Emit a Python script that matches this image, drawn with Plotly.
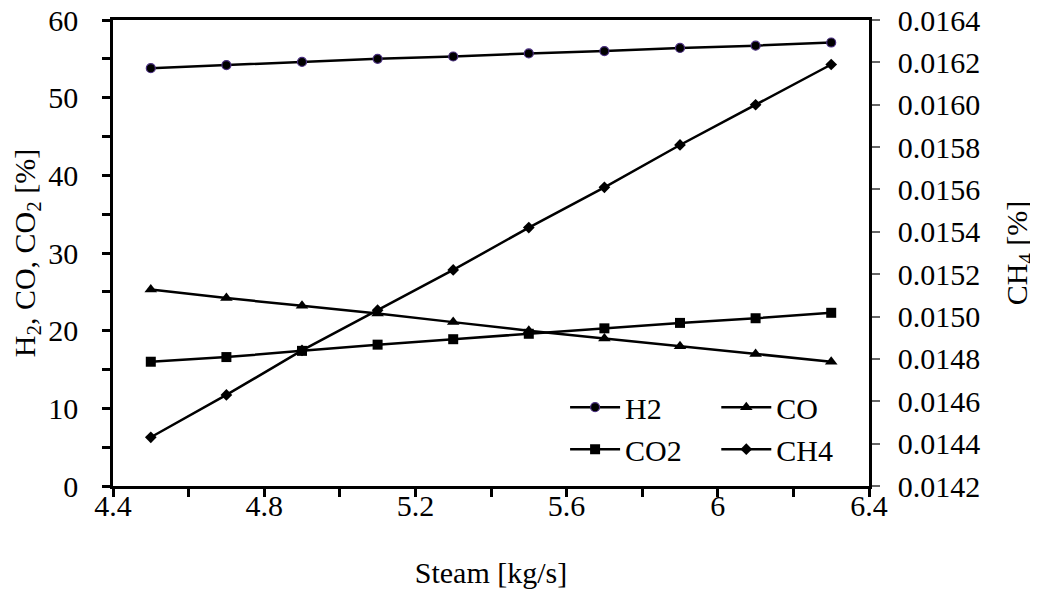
import plotly.graph_objects as go

steam = [4.5, 4.7, 4.9, 5.1, 5.3, 5.5, 5.7, 5.9, 6.1, 6.3]
h2 = [53.8, 54.2, 54.6, 55.0, 55.3, 55.7, 56.0, 56.4, 56.7, 57.1]
co = [25.3, 24.2, 23.2, 22.2, 21.1, 20.0, 19.0, 18.0, 17.0, 16.0]
co2 = [16.0, 16.6, 17.4, 18.2, 18.9, 19.6, 20.3, 21.0, 21.6, 22.3]
ch4 = [0.01443, 0.01463, 0.01484, 0.01503, 0.01522, 0.01542, 0.01561, 0.01581, 0.01600, 0.01619]

FONT = "Liberation Serif, Times New Roman, serif"
FS = 30

fig = go.Figure()
line = dict(color="black", width=2.5)
fig.add_trace(go.Scatter(x=steam, y=h2, name="H2", mode="lines+markers", line=line,
                         marker=dict(symbol="circle", size=9, color="black",
                                     line=dict(color="#4a2f80", width=1.2)),
                         legend="legend"))
fig.add_trace(go.Scatter(x=steam, y=co, name="CO", mode="lines+markers", line=line,
                         marker=dict(symbol="triangle-up", size=11, color="black"),
                         legend="legend2"))
fig.add_trace(go.Scatter(x=steam, y=co2, name="CO2", mode="lines+markers", line=line,
                         marker=dict(symbol="square", size=10, color="black"),
                         legend="legend"))
fig.add_trace(go.Scatter(x=steam, y=ch4, name="CH4", mode="lines+markers", line=line,
                         marker=dict(symbol="diamond", size=9, color="black"),
                         yaxis="y2", legend="legend2"))

axis_common = dict(showgrid=False, zeroline=False, showline=True, linecolor="black",
                   linewidth=2.5, ticks="outside", ticklen=8, tickwidth=2.5,
                   tickcolor="black", tickfont=dict(family=FONT, size=FS, color="black"),
                   automargin=False, ticklabeloverflow="allow")

fig.update_layout(
    width=1030, height=587,
    margin=dict(l=105, r=169, t=12, b=109),
    paper_bgcolor="white", plot_bgcolor="white",
    font=dict(family=FONT, size=FS, color="black"),
    xaxis=dict(**axis_common, range=[4.4, 6.4], dtick=0.4, tick0=4.4,
               minor=dict(dtick=0.2, tick0=4.4, ticks="outside", ticklen=8, tickwidth=2.5,
                          tickcolor="black"),
               mirror=True, ticklabelstandoff=-17,
               title=dict(text="Steam [kg/s]", font=dict(family=FONT, size=FS), standoff=42)),
    yaxis=dict(**axis_common, range=[0, 60], dtick=10,
               minor=dict(dtick=5, ticks="outside", ticklen=8, tickwidth=2.5, tickcolor="black"),
               ticklabelstandoff=18,
               title=dict(text="H<sub>2</sub>, CO, CO<sub>2</sub> [%]",
                          font=dict(family=FONT, size=FS), standoff=6)),
    yaxis2=dict(showgrid=False, zeroline=False, showline=True, linecolor="black",
                linewidth=2.5, ticks="outside", ticklen=8, tickwidth=1.5, tickcolor="#666",
                tickfont=dict(family=FONT, size=FS, color="black"), automargin=False,
                ticklabeloverflow="allow",
                overlaying="y", side="right", range=[0.0142, 0.0164], dtick=0.0002,
                tick0=0.0142, tickformat=".4f", ticklabelstandoff=12,
                title=dict(text="CH<sub>4</sub> [%]", font=dict(family=FONT, size=FS), standoff=28)),
    legend=dict(x=0.598, y=0.225, xanchor="left", yanchor="top", bgcolor="rgba(0,0,0,0)",
                font=dict(family=FONT, size=FS), tracegroupgap=0, itemwidth=50),
    legend2=dict(x=0.798, y=0.225, xanchor="left", yanchor="top", bgcolor="rgba(0,0,0,0)",
                 font=dict(family=FONT, size=FS), tracegroupgap=0, itemwidth=50),
    showlegend=True,
)

fig.write_html("out.html")
